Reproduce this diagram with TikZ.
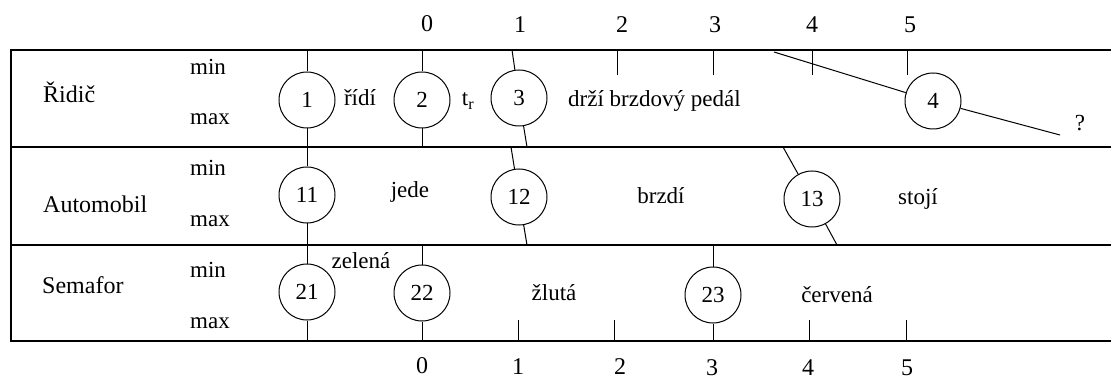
\documentclass[tikz,border=0pt]{standalone}
\usepackage{fontspec}
\setmainfont{Liberation Serif}
\begin{document}
\begin{tikzpicture}[x=1pt,y=-1pt,
  frame/.style={line width=1.4pt},
  conn/.style={line width=1pt},
  ev/.style={circle,draw,line width=1pt,minimum size=56pt,inner sep=0pt,font=\fontsize{23}{26}\selectfont},
  lbl/.style={inner sep=0pt,font=\fontsize{24}{28}\selectfont},
  small/.style={inner sep=0pt,font=\fontsize{23}{27}\selectfont}]
\useasboundingbox (0,0) rectangle (1111,382);
% frame
\draw[frame] (1111,50) -- (11,50) -- (11,341) -- (1111,341);
\draw[frame] (11,147) -- (1111,147);
\draw[frame] (11,245) -- (1111,245);
% row labels
\node[lbl,anchor=base west] (r1) at (43,103) {Řidič};
\node[lbl,anchor=base west] (r2) at (43,213) {Automobil};
\node[lbl,anchor=base west] (r3) at (42,293) {Semafor};
\node[small,anchor=base west] (mn1) at (190,75) {min};
\node[small,anchor=base west] (mx1) at (190,125) {max};
\node[small,anchor=base west] (mn2) at (190,176) {min};
\node[small,anchor=base west] (mx2) at (190,227) {max};
\node[small,anchor=base west] (mn3) at (190,277) {min};
\node[small,anchor=base west] (mx3) at (190,328) {max};
% axis numbers
\node[lbl] (a0) at (427,24) {0};
\node[lbl] (a1) at (520,25) {1};
\node[lbl] (a2) at (622,25) {2};
\node[lbl] (a3) at (715,25) {3};
\node[lbl] (a4) at (812,25) {4};
\node[lbl] (a5) at (910,25) {5};
\node[lbl] (b0) at (422,366) {0};
\node[lbl] (b1) at (518,367) {1};
\node[lbl] (b2) at (620,367) {2};
\node[lbl] (b3) at (712,368) {3};
\node[lbl] (b4) at (808,368) {4};
\node[lbl] (b5) at (907,368) {5};
% events
\node[ev] (c1) at (307,100) {1};
\node[ev] (c2) at (422,100) {2};
\node[ev] (c3) at (519,98) {3};
\node[ev] (c4) at (933,101) {4};
\node[ev] (c11) at (307,195) {11};
\node[ev] (c12) at (519,197) {12};
\node[ev] (c13) at (812,199) {13};
\node[ev] (c21) at (307,292) {21};
\node[ev] (c22) at (422,293) {22};
\node[ev] (c23) at (713,295) {23};
% coordinates on the lines
\coordinate (t1) at (307,50);
\coordinate (t2) at (422,50);
\coordinate (t3) at (512,50);
\coordinate (s2a) at (422,147);
\coordinate (s3a) at (527,147);
\coordinate (s12a) at (511,147);
\coordinate (s12b) at (527,245);
\coordinate (s13a) at (783,147);
\coordinate (s13b) at (837,245);
\coordinate (s22a) at (422,245);
\coordinate (s23a) at (713,245);
\coordinate (e21) at (307,341);
\coordinate (e22) at (422,341);
\coordinate (e23) at (713,341);
\coordinate (l4a) at (774,52);
\coordinate (l4b) at (1060,135);
% connectors
\draw[conn] (t1) -- (c1);
\draw[conn] (c1) -- (c11);
\draw[conn] (c11) -- (c21);
\draw[conn] (c21) -- (e21);
\draw[conn] (t2) -- (c2);
\draw[conn] (c2) -- (s2a);
\draw[conn] (s22a) -- (c22);
\draw[conn] (c22) -- (e22);
\draw[conn] (t3) -- (c3);
\draw[conn] (c3) -- (s3a);
\draw[conn] (s12a) -- (c12);
\draw[conn] (c12) -- (s12b);
\draw[conn] (s13a) -- (c13);
\draw[conn] (c13) -- (s13b);
\draw[conn] (s23a) -- (c23);
\draw[conn] (c23) -- (e23);
\draw[conn] (l4a) -- (c4);
\draw[conn] (c4) -- (l4b);
% ticks
\foreach \x in {617,713,812,907} \draw[conn] (\x,50) -- (\x,75);
\foreach \x in {518,614,809,906} \draw[conn] (\x,320) -- (\x,341);
% texts
\node[small,anchor=base] (tx1) at (360,106) {řídí};
\node[small,anchor=base] (tx2) at (468,106) {t$_{\mathrm{r}}$};
\node[small,anchor=base west] (tx3) at (568,107) {drží brzdový pedál};
\node[small] (q) at (1080,123) {?};
\node[small,anchor=base] (tx4) at (410,198) {jede};
\node[small,anchor=base] (tx5) at (661,204) {brzdí};
\node[small,anchor=base] (tx6) at (918,205) {stojí};
\node[small,anchor=base] (tx7) at (361,268) {zelená};
\node[small,anchor=base] (tx8) at (554,300) {žlutá};
\node[small,anchor=base] (tx9) at (837,302) {červená};
\end{tikzpicture}
\end{document}
